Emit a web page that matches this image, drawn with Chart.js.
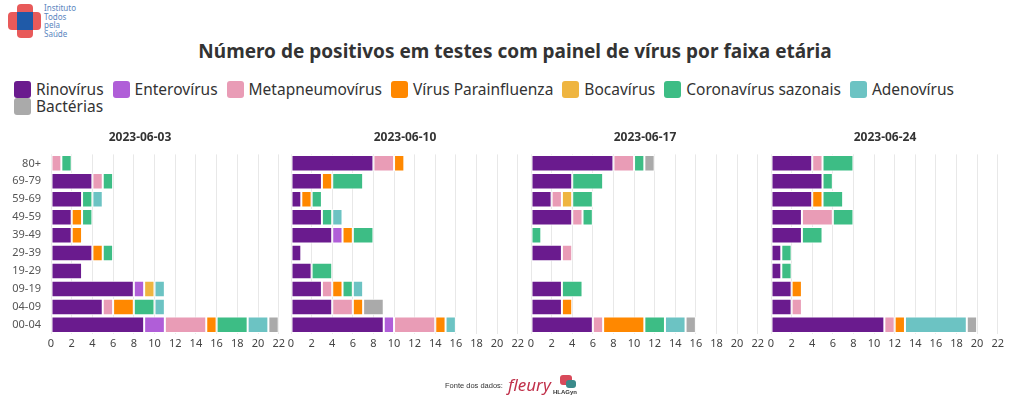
<!DOCTYPE html>
<html>

<head>
    <title>Número de positivos em testes com painel de vírus por faixa etária</title>
    <script src="https://cdn.jsdelivr.net/npm/chart.js"></script>
    <style>
        body { margin: 0; width: 1020px; height: 417px; background: #fff; position: relative; overflow: hidden; font-family: "Noto Sans", sans-serif; color: #333; }
        .abs { position: absolute; }
        #title { left: 0; width: 1030px; top: 38px; text-align: center; font-size: 19px; font-weight: bold; color: #333; }
        .legend-row { left: 14px; display: flex; font-size: 15.5px; color: #333; }
        .legend-item { display: flex; align-items: center; margin-right: 9px; }
        .swatch { width: 17px; height: 17px; border-radius: 3px; margin-right: 5px; }
        .panel { top: 126px; height: 227px; }
    </style>
</head>

<body>
    <!-- logo -->
    <div class="abs" style="left:8px;top:12px;width:33px;height:18px;background:#e85a5a;border-radius:4px;"></div>
    <div class="abs" style="left:17px;top:4px;width:16px;height:34px;background:#e85a5a;border-radius:4px;"></div>
    <div class="abs" style="left:17px;top:12px;width:16px;height:18px;background:#1f5aa8;"></div>
    <div class="abs" style="left:44px;top:4px;font-size:8px;line-height:8.5px;color:#5a86c0;">Instituto<br>Todos<br>pela<br>Saúde</div>

    <div id="title" class="abs">Número de positivos em testes com painel de vírus por faixa etária</div>
    <div id="legend1" class="abs legend-row" style="top:78px;"></div>
    <div id="legend2" class="abs legend-row" style="top:95px;"></div>

    <div class="abs panel" style="left:0;width:288px;"><canvas id="c0"></canvas></div>
    <div class="abs panel" style="left:283px;width:244px;"><canvas id="c1"></canvas></div>
    <div class="abs panel" style="left:523px;width:244px;"><canvas id="c2"></canvas></div>
    <div class="abs panel" style="left:763px;width:244px;"><canvas id="c3"></canvas></div>

    <!-- footer -->
    <div class="abs" style="left:445px;top:381px;font-family:'Liberation Sans',Arial;font-size:7.5px;color:#333;">Fonte dos dados:</div>
    <div class="abs" style="left:508px;top:373px;font-style:italic;font-size:17px;color:#c0304a;">fleury</div>
    <div class="abs" style="left:560px;top:375px;width:12px;height:10px;background:#d84a5a;border-radius:3px;"></div>
    <div class="abs" style="left:566px;top:380px;width:10px;height:8px;background:#3a8a8a;border-radius:3px;"></div>
    <div class="abs" style="left:553px;top:389px;font-family:'Liberation Sans',Arial;font-size:6px;font-weight:bold;color:#333;">HLAGyn</div>

    <script>
        // data (rows top to bottom)
        const dates = ['2023-06-03', '2023-06-10', '2023-06-17', '2023-06-24'];
        const ageGroups = ['80+', '69-79', '59-69', '49-59', '39-49', '29-39', '19-29', '09-19', '04-09', '00-04'];
        const seriesNames = ['Rinovírus', 'Enterovírus', 'Metapneumovírus', 'Vírus Parainfluenza', 'Bocavírus', 'Coronavírus sazonais', 'Adenovírus', 'Bactérias'];
        const seriesColors = ['#6a1b8e', '#b05ed8', '#e99cb6', '#ff8800', '#efb540', '#3dbd85', '#6cc3c3', '#aaaaaa'];
        const xTicks = [0, 2, 4, 6, 8, 10, 12, 14, 16, 18, 20, 22];

        const rinovirus = [
            [0, 4, 3, 2, 2, 4, 3, 8, 5, 9],
            [8, 3, 1, 3, 4, 1, 2, 3, 4, 9],
            [8, 4, 2, 4, 0, 3, 0, 3, 3, 6],
            [4, 5, 4, 3, 3, 1, 1, 2, 2, 11]
        ];
        const enterovirus = [
            [0, 0, 0, 0, 0, 0, 0, 1, 0, 2],
            [0, 0, 0, 0, 1, 0, 0, 0, 0, 1],
            [0, 0, 0, 0, 0, 0, 0, 0, 0, 0],
            [0, 0, 0, 0, 0, 0, 0, 0, 0, 0]
        ];
        const metapneumovirus = [
            [1, 1, 0, 0, 0, 0, 0, 0, 1, 4],
            [2, 0, 0, 0, 0, 0, 0, 1, 2, 4],
            [2, 0, 1, 1, 0, 1, 0, 0, 0, 1],
            [1, 0, 0, 3, 0, 0, 0, 0, 1, 1]
        ];
        const parainfluenza = [
            [0, 0, 0, 1, 1, 1, 0, 0, 2, 1],
            [1, 1, 1, 0, 1, 0, 0, 1, 1, 1],
            [0, 0, 0, 0, 0, 0, 0, 0, 1, 4],
            [0, 0, 1, 0, 0, 0, 0, 1, 0, 1]
        ];
        const bocavirus = [
            [0, 0, 0, 0, 0, 0, 0, 1, 0, 0],
            [0, 0, 0, 0, 0, 0, 0, 0, 0, 0],
            [0, 0, 1, 0, 0, 0, 0, 0, 0, 0],
            [0, 0, 0, 0, 0, 0, 0, 0, 0, 0]
        ];
        const coronavirus = [
            [1, 1, 1, 1, 0, 1, 0, 0, 2, 3],
            [0, 3, 1, 1, 2, 0, 2, 1, 0, 0],
            [1, 3, 2, 1, 1, 0, 0, 2, 0, 2],
            [3, 1, 2, 2, 2, 1, 1, 0, 0, 0]
        ];
        const adenovirus = [
            [0, 0, 1, 0, 0, 0, 0, 1, 1, 2],
            [0, 0, 0, 1, 0, 0, 0, 1, 0, 1],
            [0, 0, 0, 0, 0, 0, 0, 0, 0, 2],
            [0, 0, 0, 0, 0, 0, 0, 0, 0, 6]
        ];
        const bacterias = [
            [0, 0, 0, 0, 0, 0, 0, 0, 0, 1],
            [0, 0, 0, 0, 0, 0, 0, 0, 2, 0],
            [1, 0, 0, 0, 0, 0, 0, 0, 0, 1],
            [0, 0, 0, 0, 0, 0, 0, 0, 0, 1]
        ];
        const allSeries = [rinovirus, enterovirus, metapneumovirus, parainfluenza, bocavirus, coronavirus, adenovirus, bacterias];

        // legend in html
        seriesNames.forEach((name, i) => {
            const row = document.getElementById(i < 7 ? 'legend1' : 'legend2');
            row.innerHTML += '<div class="legend-item"><div class="swatch" style="background:' + seriesColors[i] + '"></div>' + name + '</div>';
        });

        Chart.defaults.font.family = '"Noto Sans", sans-serif';
        Chart.defaults.color = '#444';

        dates.forEach((date, d) => {
            const first = d === 0;
            const yScale = {
                stacked: true,
                display: first,
                ticks: { font: { size: 11 }, color: '#555', padding: 10 },
                grid: { display: false, drawTicks: false },
                border: { display: false }
            };
            if (first) yScale.afterFit = scale => { scale.width = 51; };

            new Chart(document.getElementById('c' + d), {
                type: 'bar',
                data: {
                    labels: ageGroups,
                    datasets: allSeries.map((s, i) => ({
                        label: seriesNames[i],
                        data: s[d].map(v => v === 0 ? null : v),
                        backgroundColor: seriesColors[i],
                        borderColor: '#ffffff',
                        borderWidth: 1,
                        borderSkipped: false,
                        barPercentage: 0.92,
                        categoryPercentage: 1
                    }))
                },
                options: {
                    indexAxis: 'y',
                    responsive: true,
                    maintainAspectRatio: false,
                    animation: false,
                    layout: { padding: { left: first ? 0 : 8, right: 8, top: 0, bottom: 0 } },
                    plugins: {
                        legend: { display: false },
                        tooltip: { enabled: false },
                        title: {
                            display: true,
                            text: date,
                            color: '#333',
                            font: { size: 12, weight: 'bold' },
                            padding: { top: 4, bottom: 10 }
                        }
                    },
                    scales: {
                        x: {
                            stacked: true,
                            min: 0,
                            max: 22,
                            afterBuildTicks: scale => { scale.ticks = xTicks.map(v => ({ value: v })); },
                            ticks: { font: { size: 11 }, color: '#444', padding: 3, maxRotation: 0, minRotation: 0, autoSkip: false },
                            grid: { color: '#e8e8e8', drawTicks: false },
                            border: { display: false }
                        },
                        y: yScale
                    }
                }
            });
        });
    </script>
</body>

</html>
